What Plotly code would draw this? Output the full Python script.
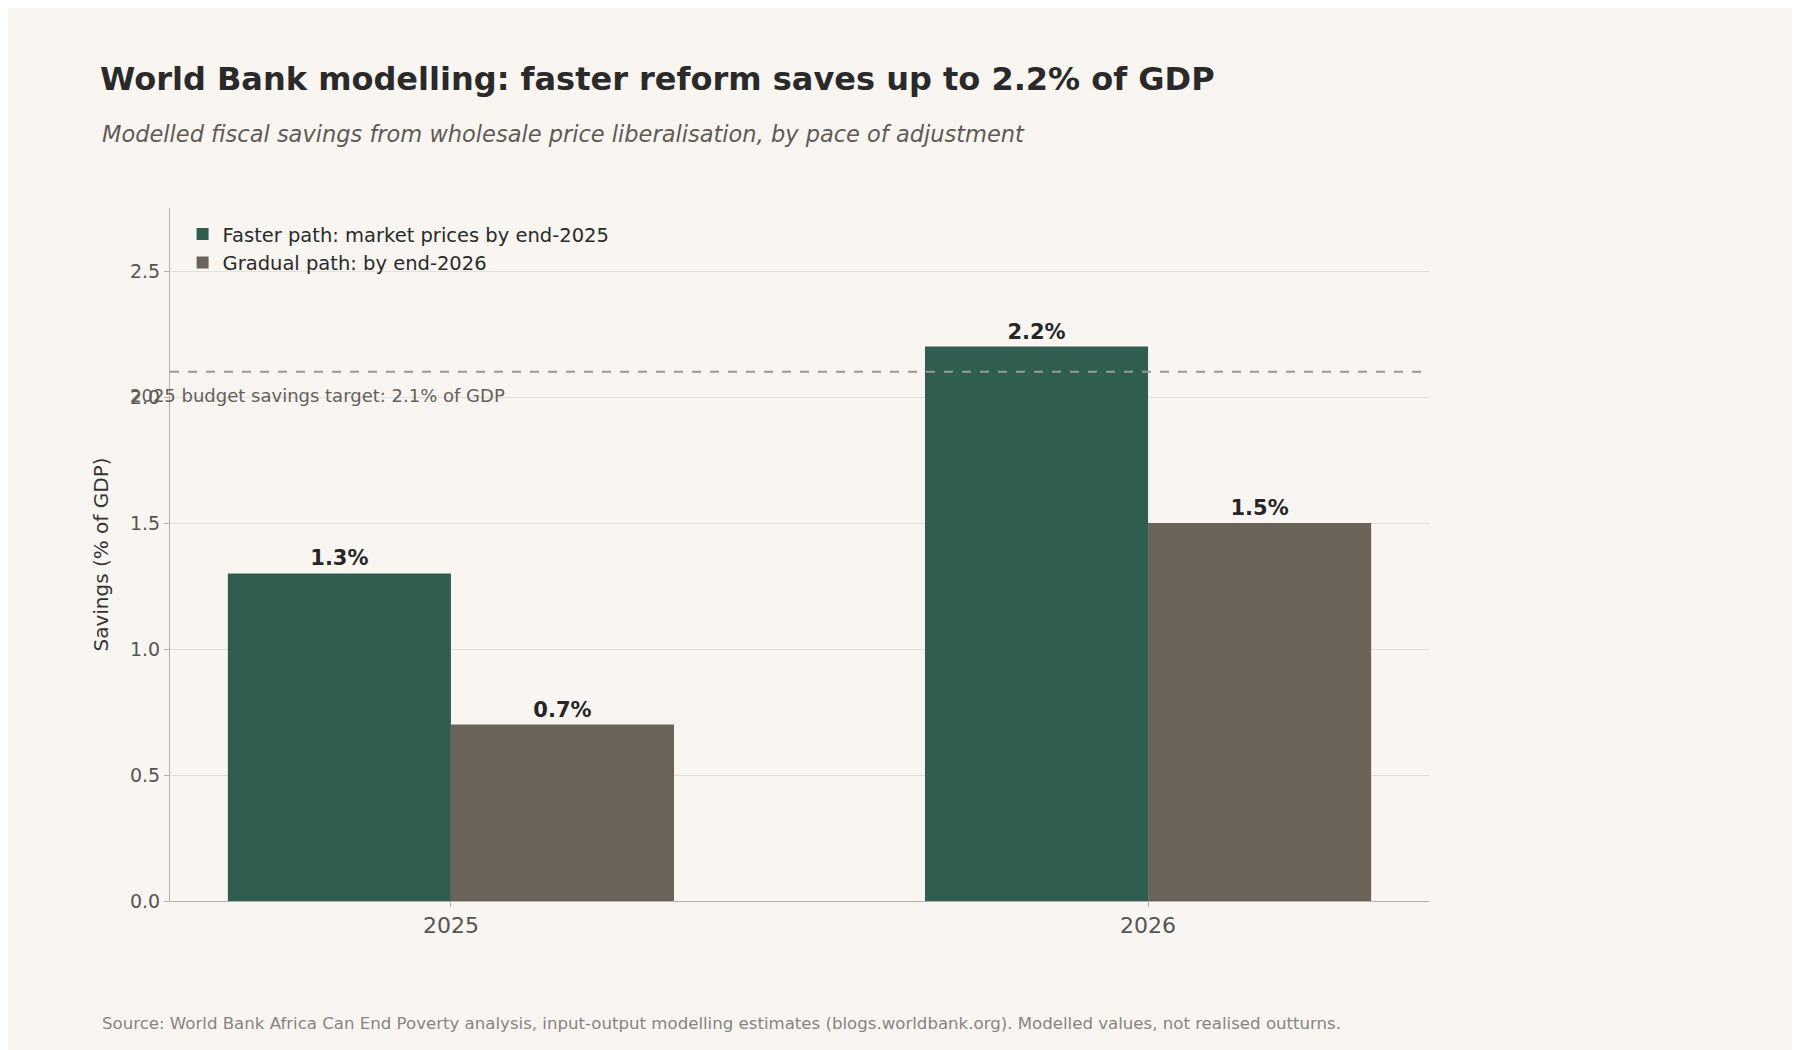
import plotly.graph_objects as go

years = ["2025", "2026"]
faster = [1.3, 2.2]
gradual = [0.7, 1.5]
target = 2.1
series_names = ["Faster path: market prices by end-2025", "Gradual path: by end-2026"]
colors = ["#2f5d50", "#6b6358"]

F = "DejaVu Sans"
fig = go.Figure()
for name, vals, c in zip(series_names, [faster, gradual], colors):
    fig.add_trace(go.Bar(
        x=years, y=vals, name=name, marker=dict(color=c, line=dict(width=0)),
        text=[f"<b>{v:.1f}%</b>" for v in vals], textposition="outside",
        textfont=dict(family=F, size=21, color="#262626"), cliponaxis=False))

fig.add_hline(y=target, line=dict(color="#999999", width=2, dash="dash"))
fig.add_annotation(xref="paper", x=-0.033, y=target, yshift=-24, xanchor="left",
                   text=f"2025 budget savings target: {target}% of GDP", showarrow=False,
                   font=dict(family=F, size=18, color="#666059"))

LX = (92 - 162) / 1259
fig.update_layout(
    width=1800, height=1050, paper_bgcolor="#f9f6f2", plot_bgcolor="#f9f6f2",
    font=dict(family=F, color="#333333"),
    margin=dict(l=162, r=379, t=200, b=157),
    barmode="group", bargap=0.36, bargroupgap=0,
    title=dict(text="<b>World Bank modelling: faster reform saves up to 2.2% of GDP</b>",
               x=92/1800, xanchor="left", y=1-71/1050, yanchor="middle",
               font=dict(family=F, size=32, color="#2a2a2a")),
    legend=dict(x=0.01, y=0.99, xanchor="left", yanchor="top", bgcolor="rgba(0,0,0,0)",
                font=dict(family=F, size=19.5, color="#2a2a2a")),
    xaxis=dict(type="category", range=[-0.403, 1.403], showline=True, linecolor="#b5b0aa",
               ticks="outside", ticklen=5, tickcolor="#b5b0aa",
               tickfont=dict(family=F, size=22, color="#555555"), showgrid=False),
    yaxis=dict(range=[0, 2.75], tickvals=[0, 0.5, 1, 1.5, 2, 2.5],
               ticktext=["0.0", "0.5", "1.0", "1.5", "2.0", "2.5"],
               showline=True, linecolor="#b5b0aa", ticks="outside", ticklen=5, tickcolor="#b5b0aa",
               gridcolor="#e3e0db", zeroline=False,
               tickfont=dict(family=F, size=19, color="#555555"),
               title=dict(text="Savings (% of GDP)", font=dict(family=F, size=20, color="#333333"))),
)
fig.add_annotation(xref="paper", yref="paper", x=LX, y=(1050 - 126 - 157) / 693, yanchor="middle",
                   xanchor="left", showarrow=False,
                   text="<i>Modelled fiscal savings from wholesale price liberalisation, by pace of adjustment</i>",
                   font=dict(family=F, size=22.5, color="#5f5a55"))
fig.add_annotation(xref="paper", yref="paper", x=LX, y=-(1015-893)/693, xanchor="left", yanchor="middle",
                   showarrow=False,
                   text="Source: World Bank Africa Can End Poverty analysis, input-output modelling estimates (blogs.worldbank.org). Modelled values, not realised outturns.",
                   font=dict(family=F, size=16.6, color="#888480"))
fig.write_html("out.html")
